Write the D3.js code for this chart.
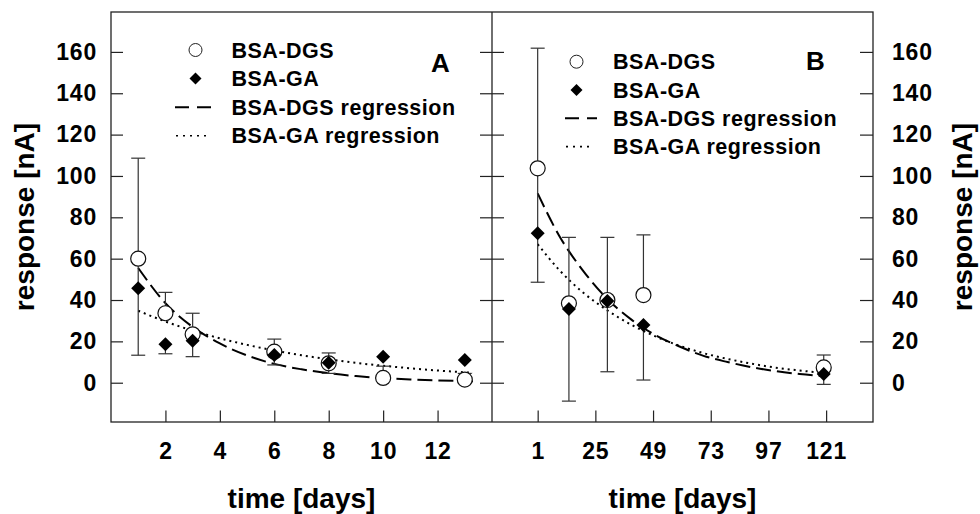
<!DOCTYPE html>
<html><head><meta charset="utf-8">
<script src="https://cdn.jsdelivr.net/npm/d3@7"></script>
<style>
body{margin:0;background:#fff}
svg{display:block}
text{font-family:"Liberation Sans",Arial,Helvetica,sans-serif;font-weight:bold;fill:#000}
</style>
</head><body>
<svg id="c" width="980" height="514"></svg>
<script>
// ---------- data ----------
const yTicks = [0, 20, 40, 60, 80, 100, 120, 140, 160];
const xTicksA = [2, 4, 6, 8, 10, 12];
const xTicksB = [1, 25, 49, 73, 97, 121];
const legendLabels = ["BSA-DGS", "BSA-GA", "BSA-DGS regression", "BSA-GA regression"];
const panelLabels = ["A", "B"];
const xTitle = "time [days]";
const yTitle = "response [nA]";

// panel A (days)
const daysA  = [1, 2, 3, 6, 8, 10, 13];
const dgsA   = [60, 33.6, 23.4, 15, 9.4, 2.3, 1.5];
const dgsAHi = [108.6, 43.7, 33.6, 21.1, 14.4, 8, 4.5];
const dgsALo = [13.3, null, 12.6, 8.6, 4.5, null, null];
const gaA    = [45.7, 18.6, 20.3, 13.4, 9.7, 12.6, 11];
const gaAHi  = [null, null, null, null, null, null, null];
const gaALo  = [null, 14, null, null, null, null, null];
const regXA   = [1, 2, 3, 4, 5, 6, 7, 8, 9, 10, 11, 12, 13.3];
const regDgsA = [55.5, 38.5, 27, 19, 13.2, 9.1, 6.5, 4.6, 3.2, 2.2, 1.6, 1.1, 0.7];
const regGaA  = [34.8, 29.6, 25.2, 21.5, 18.3, 15.6, 13.3, 11.3, 9.6, 8.2, 7, 5.9, 4.8];

// panel B (days)
const daysB  = [1, 14, 30, 45, 120];
const dgsB   = [103.7, 38.4, 40, 42.4, 7.4];
const dgsBHi = [161.8, 70.3, 70.3, 71.5, 13.4];
const dgsBLo = [48.6, null, 5.3, null, null];
const gaB    = [72.3, 35.7, 39.5, 27.9, 4.2];
const gaBHi  = [null, null, null, null, null];
const gaBLo  = [null, -8.9, null, 1.3, -0.8];
const regXB   = [1, 10, 20, 30, 40, 50, 60, 70, 80, 90, 100, 110, 120];
const regDgsB = [91.6, 71, 54, 40.5, 30.5, 23, 17.5, 13, 10, 7.5, 5.6, 4.2, 3.2];
const regGaB  = [67, 54.5, 43.5, 35, 28, 22.4, 17.9, 14.3, 11.5, 9.2, 7.3, 5.9, 4.7];

// ---------- layout ----------
const svg = d3.select("#c");
const plotTop = 12, plotBottom = 422;
const y = d3.scaleLinear().domain([-19, 179.3]).range([plotBottom, plotTop]);
const xA = d3.scaleLinear().domain([0, 14]).range([111, 492]);
const xB = d3.scaleLinear().domain([-18, 140.5]).range([492, 873]);

const tickFont = 23;
function styleTickText(sel){
  sel.selectAll("text").style("font-size", tickFont + "px").style("letter-spacing","0.8px").attr("fill","#000");
  sel.selectAll("line").attr("stroke","#222").attr("stroke-width",1.2);
  sel.select(".domain").remove();
}

// Y axes
svg.append("g").attr("transform","translate(111,0)")
  .call(d3.axisLeft(y).tickValues(yTicks).tickSizeInner(-12).tickSizeOuter(0).tickPadding(14))
  .call(styleTickText);
svg.append("g").attr("transform","translate(492,0)")
  .call(d3.axisRight(y).tickValues(yTicks).tickSizeInner(-12).tickSizeOuter(0).tickFormat(""))
  .call(styleTickText);
svg.append("g").attr("transform","translate(492,0)")
  .call(d3.axisLeft(y).tickValues(yTicks).tickSizeInner(-12).tickSizeOuter(0).tickFormat(""))
  .call(styleTickText);
svg.append("g").attr("transform","translate(873,0)")
  .call(d3.axisRight(y).tickValues(yTicks).tickSizeInner(-13).tickSizeOuter(0).tickPadding(19))
  .call(styleTickText);

// X axes
svg.append("g").attr("transform",`translate(0,${plotBottom})`)
  .call(d3.axisBottom(xA).tickValues(xTicksA).tickSizeInner(-11.5).tickSizeOuter(0).tickPadding(21))
  .call(styleTickText);
svg.append("g").attr("transform",`translate(0,${plotBottom})`)
  .call(d3.axisBottom(xB).tickValues(xTicksB).tickSizeInner(-11.5).tickSizeOuter(0).tickPadding(21))
  .call(styleTickText);

// frame
svg.append("rect").attr("x",111).attr("y",plotTop).attr("width",873-111).attr("height",plotBottom-plotTop)
  .attr("fill","none").attr("stroke","#222").attr("stroke-width",1.3);
svg.append("line").attr("x1",492).attr("x2",492).attr("y1",plotTop).attr("y2",plotBottom)
  .attr("stroke","#222").attr("stroke-width",1.3);

// axis titles
svg.append("text").attr("x",(111+492)/2).attr("y",508).attr("text-anchor","middle")
  .style("font-size","28px").text(xTitle);
svg.append("text").attr("x",(492+873)/2).attr("y",508).attr("text-anchor","middle")
  .style("font-size","28px").text(xTitle);
svg.append("text").attr("transform","translate(34,217) rotate(-90)").attr("text-anchor","middle")
  .style("font-size","28px").text(yTitle);
svg.append("text").attr("transform","translate(972,217) rotate(-90)").attr("text-anchor","middle")
  .style("font-size","28px").text(yTitle);

// ---------- marks ----------
function diamondPath(cx, cy, h){
  return `M${cx},${cy-h}L${cx+h},${cy}L${cx},${cy+h}L${cx-h},${cy}Z`;
}

function drawPanel(x, days, dgs, dgsHi, dgsLo, ga, gaHi, gaLo, regX, regDgs, regGa){
  const g = svg.append("g");
  const line = d3.line().x(d => x(d[0])).y(d => y(d[1])).curve(d3.curveMonotoneX);
  g.append("path").datum(regX.map((v,i)=>[v, regDgs[i]])).attr("d", line)
    .attr("fill","none").attr("stroke","#000").attr("stroke-width",2).attr("stroke-dasharray","15,6");
  g.append("path").datum(regX.map((v,i)=>[v, regGa[i]])).attr("d", line)
    .attr("fill","none").attr("stroke","#000").attr("stroke-width",2).attr("stroke-dasharray","2,4");

  const bars = [];
  days.forEach((d,i)=>{
    [[dgs[i], dgsHi[i]], [dgs[i], dgsLo[i]], [ga[i], gaHi[i]], [ga[i], gaLo[i]]].forEach(p=>{
      if (p[1] !== null) bars.push({d, from:p[0], to:p[1]});
    });
  });
  const eb = g.append("g").attr("stroke","#333").attr("stroke-width",1.2);
  eb.selectAll("line.v").data(bars).join("line").attr("class","v")
    .attr("x1",b=>x(b.d)).attr("x2",b=>x(b.d)).attr("y1",b=>y(b.from)).attr("y2",b=>y(b.to));
  eb.selectAll("line.c").data(bars).join("line").attr("class","c")
    .attr("x1",b=>x(b.d)-7).attr("x2",b=>x(b.d)+7).attr("y1",b=>y(b.to)).attr("y2",b=>y(b.to));

  g.selectAll("circle").data(days.map((d,i)=>[d, dgs[i]])).join("circle")
    .attr("cx",d=>x(d[0])).attr("cy",d=>y(d[1])).attr("r",7.5)
    .attr("fill","#fff").attr("stroke","#111").attr("stroke-width",1.2);
  g.selectAll("path.dm").data(days.map((d,i)=>[d, ga[i]])).join("path").attr("class","dm")
    .attr("d",d=>diamondPath(x(d[0]), y(d[1]), 7)).attr("fill","#000");
}
drawPanel(xA, daysA, dgsA, dgsAHi, dgsALo, gaA, gaAHi, gaALo, regXA, regDgsA, regGaA);
drawPanel(xB, daysB, dgsB, dgsBHi, dgsBLo, gaB, gaBHi, gaBLo, regXB, regDgsB, regGaB);

// ---------- legends ----------
function legend(symX, dashX0, dashX1, textX, rowY, rowGap){
  const g = svg.append("g");
  legendLabels.forEach((lab,i)=>{
    const cy = rowY + i*rowGap;
    if (i===0) g.append("circle").attr("cx",symX).attr("cy",cy).attr("r",6.5)
      .attr("fill","#fff").attr("stroke","#222").attr("stroke-width",1);
    if (i===1) g.append("path").attr("d",diamondPath(symX, cy, 6)).attr("fill","#000");
    if (i===2) g.append("line").attr("x1",dashX0).attr("x2",dashX1).attr("y1",cy).attr("y2",cy)
      .attr("stroke","#000").attr("stroke-width",2).attr("stroke-dasharray","14,8");
    if (i===3) g.append("line").attr("x1",dashX0+1).attr("x2",dashX1-4).attr("y1",cy).attr("y2",cy)
      .attr("stroke","#000").attr("stroke-width",1.6).attr("stroke-dasharray","2,5");
    g.append("text").attr("x",textX).attr("y",cy+7.5).style("font-size","21.5px")
      .style("letter-spacing","0.5px").text(lab);
  });
}
legend(195.5, 175, 211, 231.5, 50, 28.6);
legend(576.5, 565, 597, 613, 61.7, 28.3);

svg.append("text").attr("x",431).attr("y",71.5).style("font-size","26px").text(panelLabels[0]);
svg.append("text").attr("x",806).attr("y",70).style("font-size","26px").text(panelLabels[1]);
</script>
</body></html>
